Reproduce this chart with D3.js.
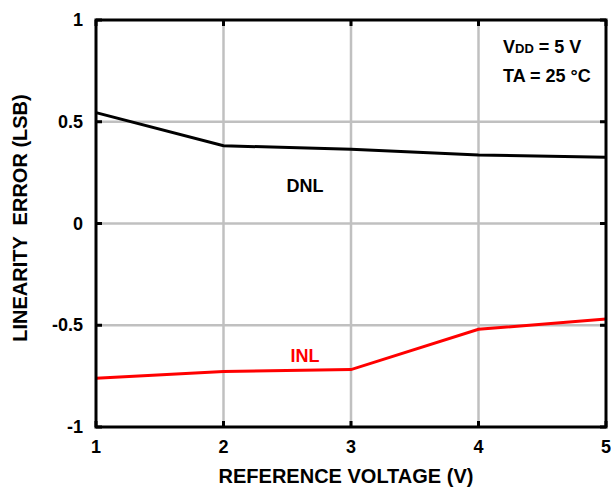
<!DOCTYPE html>
<html><head><meta charset="utf-8">
<script src="https://cdn.jsdelivr.net/npm/d3@7"></script>
<style>
body{margin:0;background:#fff;}
text{font-family:"Liberation Sans Narrow","Liberation Sans",Arial,sans-serif;font-weight:bold;fill:#000;}
</style></head>
<body>
<svg id="c" width="611" height="490"></svg>
<script>
const xTicks = [1, 2, 3, 4, 5];
const yTicks = [-1, -0.5, 0, 0.5, 1];
const yTickLabels = ["-1", "-0.5", "0", "0.5", "1"];
const voltage = [1, 2, 3, 4, 5];
const dnl = [0.545, 0.382, 0.365, 0.337, 0.326];
const inl = [-0.76, -0.727, -0.718, -0.52, -0.469];

const svg = d3.select("#c");
const L = 96, R = 606, T = 20, B = 427;
const x = d3.scaleLinear().domain([1, 5]).range([L, R]);
const y = d3.scaleLinear().domain([-1, 1]).range([B, T]);

// grid
svg.append("g").selectAll("line").data(xTicks.slice(1, -1)).join("line")
  .attr("x1", d => x(d)).attr("x2", d => x(d)).attr("y1", T).attr("y2", B)
  .attr("stroke", "#c0c0c0").attr("stroke-width", 2.5);
svg.append("g").selectAll("line").data(yTicks.slice(1, -1)).join("line")
  .attr("y1", d => y(d)).attr("y2", d => y(d)).attr("x1", L).attr("x2", R)
  .attr("stroke", "#c0c0c0").attr("stroke-width", 2.5);

// lines
const line = d3.line().x((d, i) => x(voltage[i])).y(d => y(d));
svg.append("path").datum(dnl).attr("d", line).attr("fill", "none")
  .attr("stroke", "#000").attr("stroke-width", 3);
svg.append("path").datum(inl).attr("d", line).attr("fill", "none")
  .attr("stroke", "#ff0000").attr("stroke-width", 3);

// frame
svg.append("rect").attr("x", L).attr("y", T).attr("width", R - L).attr("height", B - T)
  .attr("fill", "none").attr("stroke", "#000").attr("stroke-width", 3);

// inward ticks
svg.append("g").selectAll("line").data(xTicks).join("line")
  .attr("x1", d => x(d)).attr("x2", d => x(d)).attr("y1", B).attr("y2", B - 6)
  .attr("stroke", "#000").attr("stroke-width", 3);
svg.append("g").selectAll("line").data(xTicks).join("line")
  .attr("x1", d => x(d)).attr("x2", d => x(d)).attr("y1", T).attr("y2", T + 6)
  .attr("stroke", "#000").attr("stroke-width", 3);
svg.append("g").selectAll("line").data(yTicks).join("line")
  .attr("y1", d => y(d)).attr("y2", d => y(d)).attr("x1", L).attr("x2", L + 6)
  .attr("stroke", "#000").attr("stroke-width", 3);
svg.append("g").selectAll("line").data(yTicks).join("line")
  .attr("y1", d => y(d)).attr("y2", d => y(d)).attr("x1", R).attr("x2", R - 6)
  .attr("stroke", "#000").attr("stroke-width", 3);

// tick labels
svg.append("g").selectAll("text").data(xTicks).join("text")
  .attr("x", d => x(d)).attr("y", 453).attr("text-anchor", "middle")
  .attr("font-size", 18).text(d => d);
svg.append("g").selectAll("text").data(yTicks).join("text")
  .attr("x", 83).attr("y", d => y(d) + 6).attr("text-anchor", "end")
  .attr("font-size", 18).text((d, i) => yTickLabels[i]);

// axis titles
svg.append("text").attr("x", 346).attr("y", 483).attr("text-anchor", "middle")
  .attr("font-size", 20).text("REFERENCE VOLTAGE (V)");
svg.append("text").attr("transform", "translate(27,218) rotate(-90)")
  .attr("text-anchor", "middle").attr("font-size", 20)
  .attr("xml:space", "preserve").text("LINEARITY  ERROR (LSB)");

// series labels
svg.append("text").attr("x", 305).attr("y", 192).attr("text-anchor", "middle")
  .attr("font-size", 18).text("DNL");
svg.append("text").attr("x", 305).attr("y", 362).attr("text-anchor", "middle")
  .attr("font-size", 18).style("fill", "#ff0000").text("INL");

// conditions
const t1 = svg.append("text").attr("x", 503).attr("y", 53).attr("font-size", 18);
t1.append("tspan").text("V");
t1.append("tspan").attr("font-size", 13).text("DD");
t1.append("tspan").text(" = 5 V");
svg.append("text").attr("x", 503).attr("y", 82).attr("font-size", 18).text("TA = 25 °C");
</script>
</body></html>
